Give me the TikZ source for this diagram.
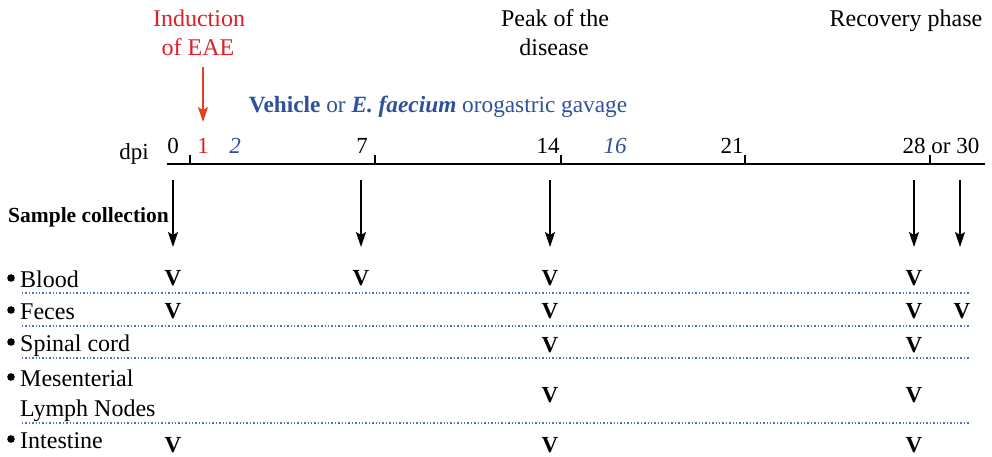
\documentclass[tikz,border=0pt]{standalone}
\usepackage{fontspec}
\setmainfont{Liberation Serif}
\usetikzlibrary{arrows.meta}
\definecolor{eaered}{RGB}{226,30,40}
\definecolor{arrred}{RGB}{232,64,30}
\definecolor{gavblue}{RGB}{47,80,155}
\definecolor{dotblue}{RGB}{80,115,185}
\begin{document}
\begin{tikzpicture}[x=1pt,y=-1pt,
  txt/.style={inner sep=0pt,anchor=base,font=\fontsize{24}{29}\selectfont},
  num/.style={inner sep=0pt,anchor=base,font=\fontsize{23}{28}\selectfont},
  vmark/.style={inner sep=0pt,anchor=base,font=\fontsize{23}{28}\selectfont\bfseries},
  rowlab/.style={inner sep=0pt,anchor=base west,font=\fontsize{24}{29}\selectfont},
  sepline/.style={dotblue,line width=1.4pt,dash pattern=on 1.4pt off 2pt},
  collarrow/.style={line width=1.3pt,-{Stealth[length=15pt,width=10pt,inset=3pt]}},
  tickline/.style={line width=1.2pt}]
\useasboundingbox (0,0) rectangle (992,457);
% top labels
\node[txt,text=eaered] (ind1) at (199,27) {Induction};
\node[txt,text=eaered] (ind2) at (198,56) {of EAE};
\node[txt] (peak1) at (555,27) {Peak of the};
\node[txt] (peak2) at (554,56) {disease};
\node[txt] (rec) at (906,27) {Recovery phase};
% induction arrow
\coordinate (ra) at (203,67);
\coordinate (rb) at (203,122);
\draw[arrred,line width=1.3pt,-{Stealth[length=15pt,width=10pt,inset=3pt]}] (ra) -- (rb);
% gavage
\node[inner sep=0pt,anchor=base,font=\fontsize{23.3}{28}\selectfont,text=gavblue] (gav) at (438,113) {\textbf{Vehicle} or \textbf{\textit{E. faecium}} orogastric gavage};
% timeline
\coordinate (t0) at (167,164);
\coordinate (t1) at (985,164);
\draw[tickline] (t0) -- (t1);
\foreach \xx/\nm in {190/k1,375/k7,561/k14,745/k21,930/k28}{
  \coordinate (\nm a) at (\xx,164);
  \coordinate (\nm b) at (\xx,155);
  \draw[tickline] (\nm a) -- (\nm b);
}
\node[num] (dpi) at (134,160) {dpi};
\node[num] (d0) at (173,154) {0};
\node[num,text=eaered] (d1) at (203,154) {1};
\node[num,text=gavblue] (d2) at (235,154) {\textit{2}};
\node[num] (d7) at (362,154) {7};
\node[num] (d14) at (548,154) {14};
\node[num,text=gavblue] (d16) at (615,154) {\textit{16}};
\node[num] (d21) at (732,154) {21};
\node[num] (d28) at (941,154) {28 or 30};
% sample collection
\node[inner sep=0pt,anchor=base west,font=\fontsize{21.5}{25}\selectfont\bfseries] (sc) at (8,222) {Sample collection};
\foreach \xx/\nm in {173/a0,361/a7,550/a14,914/a28,960/a30}{
  \coordinate (\nm s) at (\xx,180);
  \coordinate (\nm e) at (\xx,247);
  \draw[collarrow] (\nm s) -- (\nm e);
}
% rows
\foreach \yy/\nm/\lab in {287/blood/Blood,319/feces/Feces,351/spinal/Spinal cord,386/mes/Mesenterial,448/intest/Intestine}{
  \node[rowlab] (\nm) at (20,\yy) {\lab};
  \fill (11,\yy-9) circle (3.8pt);
}
\node[rowlab] (lymph) at (20,416) {Lymph Nodes};
% separators
\foreach \yy/\nm in {293/s1,326/s2,358/s3,423/s4}{
  \coordinate (\nm a) at (22,\yy);
  \coordinate (\nm b) at (970,\yy);
  \draw[sepline] (\nm a) -- (\nm b);
}
% V marks
\node[vmark] (vb0) at (173,285) {V};
\node[vmark] (vb7) at (361,285) {V};
\node[vmark] (vb14) at (550,285) {V};
\node[vmark] (vb28) at (914,285) {V};
\node[vmark] (vf0) at (173,318) {V};
\node[vmark] (vf14) at (550,318) {V};
\node[vmark] (vf28) at (914,318) {V};
\node[vmark] (vf30) at (962,318) {V};
\node[vmark] (vs14) at (550,352) {V};
\node[vmark] (vs28) at (914,352) {V};
\node[vmark] (vm14) at (550,402) {V};
\node[vmark] (vm28) at (914,402) {V};
\node[vmark] (vi0) at (173,452) {V};
\node[vmark] (vi14) at (550,452) {V};
\node[vmark] (vi28) at (914,452) {V};
\end{tikzpicture}
\end{document}
